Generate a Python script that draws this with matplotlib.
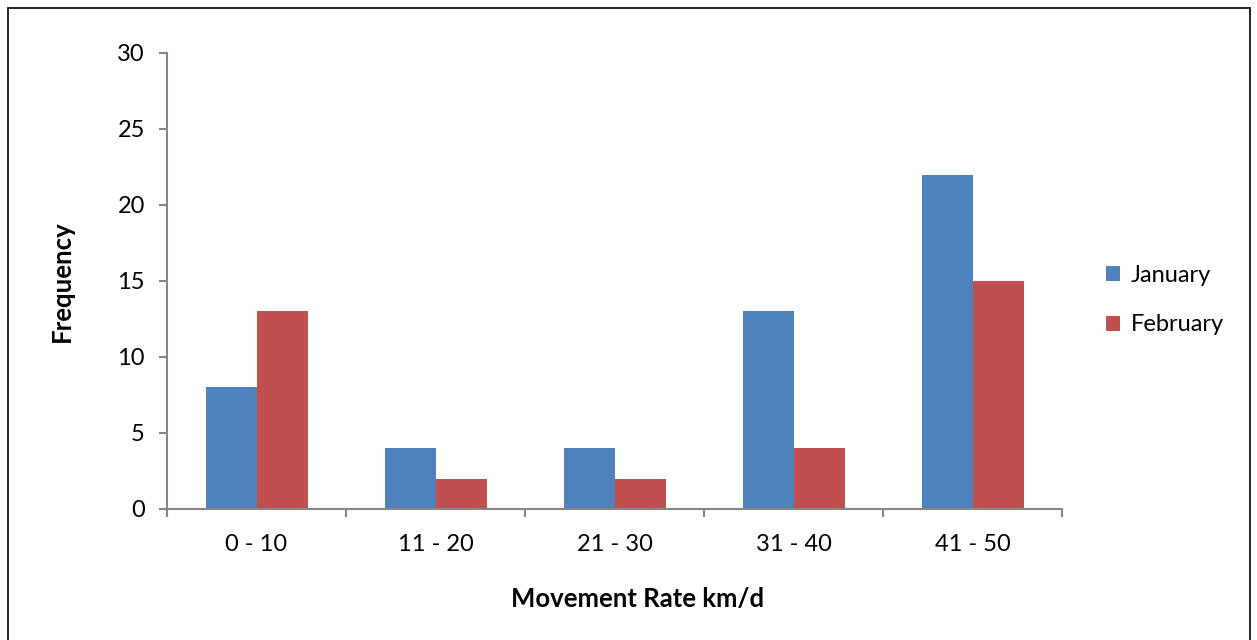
import numpy as np
import matplotlib.pyplot as plt
from matplotlib.patches import Rectangle

plt.rcParams['font.family'] = ['Lato', 'DejaVu Sans']

categories = ['0 - 10', '11 - 20', '21 - 30', '31 - 40', '41 - 50']
january = [8, 4, 4, 13, 22]
february = [13, 2, 2, 4, 15]

blue = '#4f81bd'
red = '#c0504d'
grey = '#868686'

fig = plt.figure(figsize=(12.57, 6.40), dpi=100)
ax = fig.add_axes([0.1329, 0.2047, 0.712, 0.7125])

x = np.arange(len(categories))
w = 0.285
ax.bar(x - w / 2, january, w, color=blue, label='January')
ax.bar(x + w / 2, february, w, color=red, label='February')

ax.set_xlim(-0.5, len(categories) - 0.5)
ax.set_ylim(0, 30)
ax.set_yticks(range(0, 31, 5))
ax.set_xticks(x)
ax.set_xticklabels(categories)
ax.set_xticks(np.arange(len(categories) + 1) - 0.5, minor=True)
ax.tick_params(axis='x', which='major', length=0, pad=18, labelsize=17)
ax.tick_params(axis='x', which='minor', length=6, color=grey, width=1.5)
ax.tick_params(axis='y', length=6, color=grey, width=1.5, pad=10, labelsize=17)

for s in ['top', 'right']:
    ax.spines[s].set_visible(False)
for s in ['left', 'bottom']:
    ax.spines[s].set_color(grey)
    ax.spines[s].set_linewidth(1.5)

ax.set_xlabel('Movement Rate km/d', fontsize=18.5, fontweight='bold')
ax.set_ylabel('Frequency', fontsize=18.5, fontweight='bold')
ax.xaxis.set_label_coords(0.526, -0.171)
ax.yaxis.set_label_coords(-0.104, 0.5)

fig.legend(loc='center left', bbox_to_anchor=(0.863, 0.531), frameon=False,
           fontsize=17, handlelength=0.6, handleheight=0.6, labelspacing=1.2,
           handletextpad=0.45)

# outer frame (open at the bottom)
fig.patches.append(Rectangle((8 / 1257, -0.1), 1242 / 1257, 1.1 - 8 / 640,
                             transform=fig.transFigure, fill=False,
                             edgecolor='black', linewidth=1.2))

fig.savefig('out.png', dpi=100)
